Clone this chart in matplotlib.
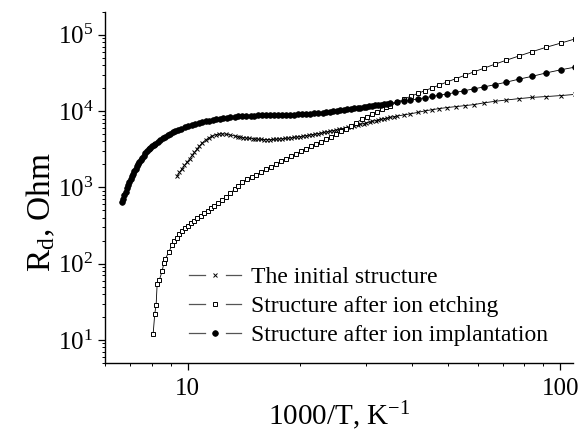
import matplotlib
matplotlib.use("Agg")
import matplotlib.pyplot as plt
import matplotlib.ticker as mt
from matplotlib.lines import Line2D
from matplotlib.legend_handler import HandlerBase

plt.rcParams.update({"font.family": "Liberation Serif", "mathtext.fontset": "custom",
                     "mathtext.rm": "Liberation Serif", "mathtext.it": "Liberation Serif:italic",
                     "text.color": "black"})

# ---- data: 1000/T (K^-1) and R_d (Ohm) ----
labels = ["The initial structure", "Structure after ion etching", "Structure after ion implantation"]

x_init = [9.366, 9.500, 9.660, 9.798, 9.963, 10.11, 10.28, 10.42, 10.60, 10.75, 10.93, 11.16,
          11.39, 11.61, 11.87, 12.13, 12.39, 12.70, 13.02, 13.43, 13.64, 13.85, 14.11, 14.37,
          14.64, 14.92, 15.19, 15.48, 15.77, 16.06, 16.36, 16.67, 16.98, 17.30, 17.62, 17.95,
          18.29, 18.63, 18.98, 19.33, 19.69, 20.06, 20.44, 20.82, 21.21, 21.61, 22.01, 22.42,
          22.84, 23.27, 23.71, 24.15, 24.60, 25.06, 25.53, 26.01, 26.50, 26.99, 27.50, 28.01,
          28.54, 29.07, 29.62, 30.17, 30.74, 31.30, 31.90, 32.49, 33.10, 33.71, 34.35, 34.99,
          35.75, 36.53, 38.14, 39.58, 41.41, 43.24, 45.27, 47.34, 49.75, 52.37, 55.36, 58.54,
          62.42, 66.63, 71.50, 77.28, 83.75, 91.53, 100.4, 109.7]
r_init = [1414, 1571, 1755, 1939, 2141, 2358, 2620, 2868, 3187, 3487, 3817, 4178,
          4463, 4711, 4899, 5003, 5035, 4974, 4857, 4711, 4642, 4573, 4504, 4437,
          4390, 4344, 4312, 4280, 4261, 4242, 4242, 4242, 4261, 4280, 4312, 4344,
          4384, 4424, 4477, 4532, 4587, 4642, 4711, 4783, 4855, 4929, 5004, 5079,
          5173, 5268, 5363, 5462, 5568, 5678, 5790, 5905, 6012, 6121, 6252, 6387,
          6542, 6700, 6855, 7010, 7172, 7334, 7504, 7674, 7826, 7980, 8125, 8272,
          8450, 8630, 8946, 9220, 9616, 10060, 10430, 10810, 11150, 11450, 11800, 12160,
          12840, 13430, 13970, 14570, 15110, 15520, 15990, 16580]

x_etch = [8.075, 8.155, 8.226, 8.277, 8.395, 8.536, 8.632, 8.712, 8.893, 9.071, 9.212, 9.366,
          9.500, 9.660, 9.829, 10.01, 10.20, 10.39, 10.58, 10.82, 11.05, 11.30, 11.54, 11.79,
          12.09, 12.39, 12.70, 13.02, 13.35, 13.68, 14.02, 14.42, 14.83, 15.29, 15.77, 16.26,
          16.77, 17.30, 17.84, 18.40, 18.98, 19.57, 20.19, 20.82, 21.47, 22.14, 22.84, 23.56,
          24.30, 25.06, 25.85, 26.66, 27.50, 28.36, 29.38, 30.26, 31.24, 32.19, 33.24, 34.03,
          34.83, 36.53, 38.14, 39.76, 41.41, 43.24, 45.27, 47.34, 49.66, 52.37, 55.36, 58.54,
          62.42, 66.63, 71.50, 77.28, 83.75, 91.53, 100.4, 109.7]
r_etch = [11.98, 21.87, 29.12, 53.95, 61.77, 79.8, 103.1, 116.3, 141.4, 174.5, 196.9, 218.7,
          243.0, 265.9, 291.1, 313.9, 338.3, 364.8, 393.3, 424.2, 457.2, 493.0, 531.6, 573.1,
          627.3, 686.5, 751.2, 834.9, 941.7, 1046, 1163, 1272, 1351, 1457, 1594, 1719,
          1854, 1998, 2187, 2358, 2542, 2741, 2956, 3187, 3436, 3704, 3993, 4305,
          4642, 5003, 5478, 5905, 6464, 7074, 7859, 8475, 9137, 9851, 10620, 11180,
          11800, 13110, 14440, 15710, 17040, 18530, 20170, 22000, 24150, 26600, 29470, 32640,
          36590, 41160, 46420, 52670, 59950, 68650, 78130, 88660]

x_impl = [6.668, 6.716, 6.764, 6.821, 6.877, 6.927, 6.976, 7.035, 7.093, 7.143, 7.194, 7.255,
          7.315, 7.367, 7.420, 7.482, 7.544, 7.623, 7.700, 7.780, 7.859, 7.938, 8.015, 8.102,
          8.190, 8.320, 8.449, 8.580, 8.714, 8.850, 8.987, 9.126, 9.268, 9.443, 9.618, 9.829,
          10.04, 10.26, 10.49, 10.72, 10.95, 11.19, 11.43, 11.68, 11.94, 12.20, 12.47, 12.74,
          13.02, 13.35, 13.68, 14.02, 14.37, 14.74, 15.10, 15.48, 15.86, 16.26, 16.67, 17.09,
          17.51, 17.95, 18.40, 18.86, 19.33, 19.82, 20.31, 20.82, 21.34, 21.88, 22.42, 22.99,
          23.56, 24.07, 24.60, 25.14, 25.69, 26.25, 26.82, 27.41, 28.01, 28.54, 29.07, 29.62,
          30.17, 30.73, 31.30, 31.89, 32.49, 33.10, 33.71, 34.35, 34.99, 36.53, 38.14, 39.58,
          41.41, 43.43, 45.27, 47.15, 49.66, 52.27, 55.26, 58.54, 62.42, 66.63, 71.50, 77.28,
          83.75, 91.53, 100.4, 109.7]
r_impl = [637, 708, 786, 873, 970, 1062, 1163, 1272, 1393, 1502, 1619, 1746,
          1882, 2013, 2154, 2288, 2430, 2600, 2782, 2956, 3139, 3284, 3436, 3594,
          3760, 3964, 4178, 4403, 4642, 4857, 5079, 5277, 5478, 5686, 5905, 6134,
          6366, 6561, 6762, 6968, 7180, 7345, 7512, 7684, 7859, 7980, 8100, 8225,
          8348, 8437, 8524, 8590, 8656, 8696, 8734, 8760, 8787, 8813, 8840, 8853,
          8866, 8892, 8920, 8960, 9000, 9055, 9110, 9192, 9275, 9374, 9474, 9588,
          9703, 9822, 9940, 10080, 10210, 10370, 10520, 10690, 10850, 10980, 11110, 11250,
          11380, 11540, 11700, 11860, 12010, 12180, 12350, 12520, 12690, 13110, 13510, 13920,
          14430, 15010, 15570, 16090, 16780, 17550, 18530, 19560, 20780, 22200, 23940, 26200,
          28500, 31670, 34870, 37830]


class GapHandler(HandlerBase):
    # line - marker - line, with gaps round the marker
    def create_artists(self, legend, orig, xd, yd, w, h, fs, trans):
        y = h / 2 - yd
        a = Line2D([-xd, -xd + 0.3 * w], [y, y], color="#555555", lw=0.9)
        b = Line2D([-xd + 0.7 * w, -xd + w], [y, y], color="#555555", lw=0.9)
        m = Line2D([-xd + 0.5 * w], [y], ls="none", marker=orig.get_marker(),
                   ms=orig.get_markersize(), mfc=orig.get_markerfacecolor(),
                   mec=orig.get_markeredgecolor(), mew=orig.get_markeredgewidth())
        for art in (a, b, m):
            art.set_transform(trans)
        return [a, b, m]


fig = plt.figure(figsize=(5.87, 4.32), dpi=100)
ax = fig.add_axes([0.179, 0.160, 0.797, 0.8125])

l1, = ax.plot(x_init, r_init, color="black", lw=0.6, marker="x", ms=3.4, mew=0.7)
l2, = ax.plot(x_etch, r_etch, color="black", lw=0.6, marker="s", ms=3.2, mfc="white", mew=0.7)
l3, = ax.plot(x_impl, r_impl, color="black", lw=0.6, marker="o", ms=4.1, mfc="black", mew=0.5)

ax.set_xscale("log")
ax.set_yscale("log")
ax.set_xlim(6.0, 108)
ax.set_ylim(5, 2e5)
ax.spines[["top", "right"]].set_visible(False)
for s in ("left", "bottom"):
    ax.spines[s].set_linewidth(1.0)

ax.xaxis.set_major_formatter(mt.FuncFormatter(lambda v, p: f"{v:g}"))
ax.xaxis.set_minor_formatter(mt.NullFormatter())
ax.yaxis.set_major_locator(mt.LogLocator(base=10, numticks=10))
ax.yaxis.set_minor_locator(mt.LogLocator(base=10, subs=range(2, 10), numticks=20))
ax.yaxis.set_minor_formatter(mt.NullFormatter())
ax.tick_params(which="major", direction="out", length=5, width=0.9, labelsize=18)
ax.tick_params(which="minor", direction="out", length=2.5, width=0.7)
ax.tick_params(axis="x", pad=6)

ax.set_xlabel(r"1000/T, K$^{\mathregular{-1}}$", fontsize=21, labelpad=-1)
ax.set_ylabel(r"R$_{\mathregular{d}}$, Ohm", fontsize=24)
ax.yaxis.set_label_coords(-0.103, 0.43)

ax.legend([l1, l2, l3], labels, handler_map={Line2D: GapHandler()}, frameon=False,
          fontsize=17, loc="lower left", bbox_to_anchor=(0.16, 0.02),
          handlelength=2.2, handletextpad=0.4, labelspacing=0.33, borderaxespad=0)

fig.savefig("out.png", dpi=100)
